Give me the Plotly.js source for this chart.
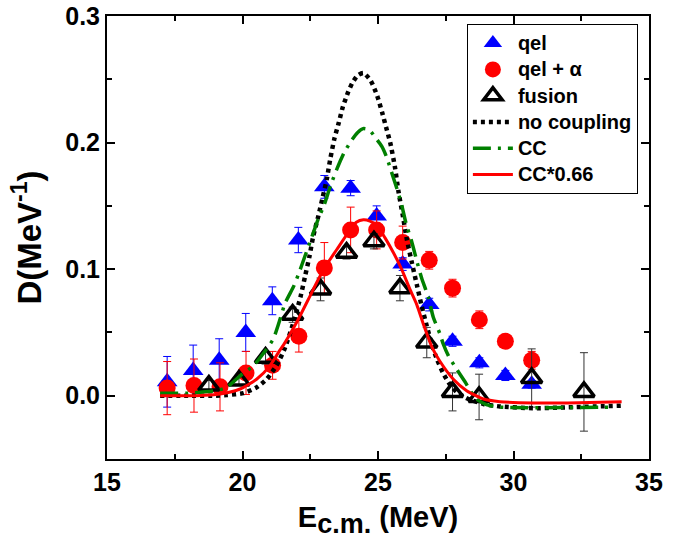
<!DOCTYPE html>
<html>
<head>
<meta charset="utf-8">
<script src="https://cdn.plot.ly/plotly-3.0.1.min.js"></script>
<style>html,body{margin:0;padding:0;background:#fff;}#chart{width:689px;height:546px;}</style>
</head>
<body>
<div id="chart"></div>
<script>
// qel data
const qelX = [17.22, 18.18, 19.14, 20.12, 21.10, 22.06, 23.02, 23.99, 24.95, 25.91, 26.89, 27.75, 28.74, 29.70, 30.67];
const qelY = [0.011, 0.020, 0.028, 0.050, 0.075, 0.123, 0.165, 0.164, 0.142, 0.104, 0.072, 0.043, 0.026, 0.016, 0.009];
const qelErr = [0.020, 0.020, 0.017, 0.015, 0.011, 0.010, 0.009, 0.006, 0.008, 0.005, 0.005, 0.004, 0.004, 0.004, 0.003];
// qel + alpha data
const qaX = [17.22, 18.21, 19.17, 20.13, 21.11, 22.08, 23.02, 23.99, 24.95, 25.91, 26.89, 27.75, 28.74, 29.70, 30.67];
const qaY = [0.006, 0.008, 0.007, 0.018, 0.024, 0.047, 0.101, 0.131, 0.131, 0.121, 0.107, 0.085, 0.060, 0.043, 0.028];
const qaErr = [0.021, 0.021, 0.019, 0.017, 0.011, 0.0125, 0.020, 0.018, 0.015, 0.013, 0.007, 0.007, 0.007, 0.003, 0.007];
// fusion data
const fuX = [18.76, 19.87, 20.85, 21.85, 22.88, 23.84, 24.85, 25.81, 26.80, 27.75, 28.73, 30.67, 32.60];
const fuY = [0.008, 0.012, 0.030, 0.064, 0.084, 0.113, 0.122, 0.085, 0.042, 0.003, -0.001, 0.014, 0.003];
const fuErr = [0.004, 0.004, 0.005, 0.006, 0.009, 0.005, 0.006, 0.010, 0.012, 0.015, 0.018, 0.023, 0.031];
// no coupling curve
const ncX = [16.96, 18.0, 19.0, 19.42, 20.03, 20.52, 20.89, 21.26, 21.57, 21.88, 22.15, 22.31, 22.47, 22.61, 22.80, 22.96, 23.11, 23.23, 23.39, 23.55, 23.70, 23.90, 24.05, 24.25, 24.46, 24.73, 24.97, 25.15, 25.30, 25.45, 25.63, 25.75, 25.91, 26.06, 26.24, 26.43, 26.61, 26.80, 26.98, 27.17, 27.40, 27.65, 27.90, 28.27, 28.89, 29.50, 30.73, 31.96, 33.99];
const ncY = [0.0, 0.0, 0.0, 0.0005, 0.002, 0.0066, 0.013, 0.024, 0.038, 0.058, 0.079, 0.0945, 0.110, 0.126, 0.142, 0.157, 0.171, 0.186, 0.203, 0.2155, 0.228, 0.240, 0.247, 0.253, 0.255, 0.249, 0.237, 0.224, 0.212, 0.200, 0.180, 0.162, 0.143, 0.124, 0.106, 0.088, 0.071, 0.055, 0.041, 0.029, 0.018, 0.009, 0.003, -0.002, -0.0065, -0.0085, -0.0099, -0.0092, -0.0079];
// CC curve
const ccX = [16.96, 18.0, 19.0, 19.42, 19.91, 20.40, 20.89, 21.14, 21.35, 21.57, 21.90, 22.10, 22.30, 22.55, 22.80, 23.00, 23.25, 23.50, 23.75, 24.00, 24.25, 24.45, 24.68, 24.90, 25.14, 25.30, 25.45, 25.63, 25.75, 25.87, 26.03, 26.24, 26.45, 26.61, 26.86, 27.04, 27.29, 27.41, 27.60, 27.90, 28.21, 28.60, 29.00, 29.50, 30.50, 32.00, 33.67];
const ccY = [0.002, 0.002, 0.004, 0.0066, 0.0157, 0.0236, 0.037, 0.045, 0.058, 0.073, 0.087, 0.098, 0.110, 0.125, 0.140, 0.150, 0.166, 0.180, 0.192, 0.201, 0.208, 0.211, 0.210, 0.204, 0.197, 0.1895, 0.180, 0.168, 0.160, 0.151, 0.1365, 0.122, 0.105, 0.093, 0.0775, 0.062, 0.0486, 0.0407, 0.0315, 0.021, 0.011, -0.002, -0.007, -0.009, -0.0095, -0.0093, -0.009];
// CC*0.66 curve
const rcX = [16.96, 18.31, 19.17, 19.91, 20.52, 21.01, 21.38, 21.51, 22.00, 22.49, 22.80, 23.11, 23.48, 23.97, 24.20, 24.46, 24.70, 24.95, 25.26, 25.57, 25.87, 26.18, 26.43, 26.70, 27.00, 27.29, 27.78, 28.27, 28.89, 29.50, 30.73, 32.00, 33.99];
const rcY = [0.0, 0.0, 0.0013, 0.0053, 0.013, 0.0236, 0.036, 0.040, 0.058, 0.0787, 0.092, 0.1037, 0.1155, 0.131, 0.137, 0.139, 0.138, 0.135, 0.1247, 0.113, 0.100, 0.084, 0.072, 0.055, 0.038, 0.027, 0.013, 0.004, -0.0026, -0.0047, -0.0057, -0.0057, -0.0047];

const names = ['qel', 'qel + \u03b1', 'fusion', 'no coupling', 'CC', 'CC*0.66'];
const legName = s => '<span style="font-size:20px">' + s + '</span>';

const traces = [
  {x: qelX, y: qelY, name: legName(names[0]), type: 'scatter', mode: 'markers',
   marker: {symbol: 'triangle-up', size: 18, color: '#0000ff'},
   error_y: {type: 'data', array: qelErr, visible: true, color: '#0000ff', thickness: 1, width: 4}},
  {x: qaX, y: qaY, name: legName(names[1]), type: 'scatter', mode: 'markers',
   marker: {symbol: 'circle', size: 17, color: '#ff0000'},
   error_y: {type: 'data', array: qaErr, visible: true, color: '#ff0000', thickness: 1, width: 4}},
  {x: fuX, y: fuY, name: legName(names[2]), type: 'scatter', mode: 'markers',
   marker: {symbol: 'triangle-up-open', size: 18, color: '#000000', line: {width: 3.5, color: '#000000'}},
   error_y: {type: 'data', array: fuErr, visible: true, color: '#333333', thickness: 1, width: 4}},
  {x: ncX, y: ncY, name: legName(names[3]), type: 'scatter', mode: 'lines',
   line: {color: '#000000', width: 4.5, dash: '4px,4px', shape: 'spline', smoothing: 0.6}},
  {x: ccX, y: ccY, name: legName(names[4]), type: 'scatter', mode: 'lines',
   line: {color: '#008000', width: 3.5, dash: '18px,7px,3px,7px', shape: 'spline', smoothing: 0.6}},
  {x: rcX, y: rcY, name: legName(names[5]), type: 'scatter', mode: 'lines',
   line: {color: '#ff0000', width: 3, shape: 'spline', smoothing: 0.6}}
];

const fontFam = 'Liberation Sans, Arial, sans-serif';
const axisCommon = {
  showline: true, linecolor: '#000', linewidth: 2, mirror: 'allticks',
  ticks: 'inside', ticklen: 8, tickwidth: 2, tickcolor: '#000',
  showgrid: false, zeroline: false,
  tickfont: {family: fontFam, size: 25, color: '#000', weight: 'bold'}
};

const layout = {
  width: 689, height: 546,
  margin: {l: 107, r: 40, t: 16, b: 87},
  paper_bgcolor: '#fff', plot_bgcolor: '#fff',
  showlegend: true,
  font: {family: fontFam, color: '#000'},
  xaxis: Object.assign({}, axisCommon, {
    range: [15, 35], dtick: 5, tick0: 15,
    minor: {dtick: 2.5, ticks: 'inside', ticklen: 5, tickwidth: 2, tickcolor: '#000'},
    title: {text: 'E<sub><span style="font-size:27px">c.m.</span></sub> (MeV)', font: {family: fontFam, size: 29, color: '#000', weight: 'bold'}, standoff: 12}
  }),
  yaxis: Object.assign({}, axisCommon, {
    range: [-0.05, 0.3], dtick: 0.1, tick0: 0, tickformat: '.1f',
    minor: {dtick: 0.05, ticks: 'inside', ticklen: 5, tickwidth: 2, tickcolor: '#000'},
    title: {text: 'D(MeV<sup>-1</sup>)', font: {family: fontFam, size: 33, color: '#000', weight: 'bold'}, standoff: 14}
  }),
  legend: {
    x: 0.664, y: 0.982, xanchor: 'left', yanchor: 'top',
    bgcolor: '#fff', bordercolor: '#000', borderwidth: 1,
    font: {family: fontFam, size: 17.9, color: '#000', weight: 'bold'},
    itemwidth: 40, tracegroupgap: 0
  }
};

Plotly.newPlot('chart', traces, layout, {displayModeBar: false, staticPlot: true});
</script>
</body>
</html>
